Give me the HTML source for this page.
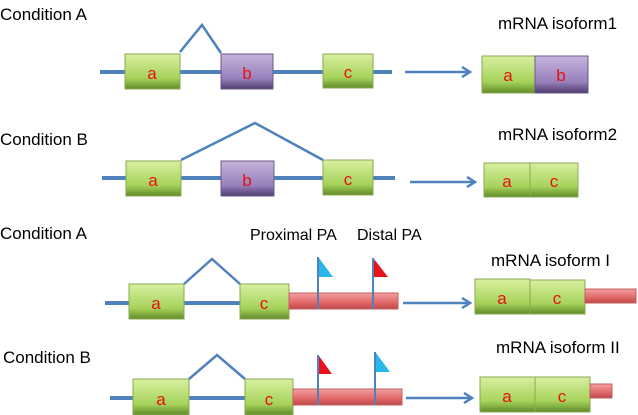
<!DOCTYPE html>
<html><head><style>
html,body{margin:0;padding:0;background:#fff;}
svg{display:block;font-family:"Liberation Sans",sans-serif;}
</style></head><body>
<svg width="638" height="415" viewBox="0 0 638 415" xmlns="http://www.w3.org/2000/svg">
<defs>
<linearGradient id="g" x1="0" y1="0" x2="0" y2="1"><stop offset="0" stop-color="#d8f0a0"/><stop offset="0.7" stop-color="#a6d25a"/><stop offset="1" stop-color="#5f8a2a"/></linearGradient>
<linearGradient id="p" x1="0" y1="0" x2="0" y2="1"><stop offset="0" stop-color="#c6b4dc"/><stop offset="0.7" stop-color="#9880bc"/><stop offset="1" stop-color="#4f3d6e"/></linearGradient>
<linearGradient id="r" x1="0" y1="0" x2="0" y2="1"><stop offset="0" stop-color="#f4a0a0"/><stop offset="0.6" stop-color="#e06868"/><stop offset="1" stop-color="#c04848"/></linearGradient>
<marker id="ah" markerWidth="12" markerHeight="12" refX="9" refY="6" orient="auto" markerUnits="userSpaceOnUse"><path d="M1,1 L9,6 L1,11" fill="none" stroke="#4f81bd" stroke-width="2.5"/></marker>
</defs>
<g font-size="17" fill="#000">
<text x="0" y="20">Condition A</text>
<text x="0" y="145">Condition B</text>
<text x="0" y="239">Condition A</text>
<text x="3" y="363">Condition B</text>
<text x="498" y="29">mRNA isoform1</text>
<text x="498" y="140">mRNA isoform2</text>
<text x="491" y="266">mRNA isoform I</text>
<text x="496" y="353">mRNA isoform II</text>
</g>
<g font-size="16" fill="#000">
<text x="250" y="240">Proximal PA</text>
<text x="357" y="240">Distal PA</text>
</g>
<g stroke="#4f81bd" stroke-width="4" fill="none">
<line x1="100" y1="72" x2="392" y2="72"/>
<line x1="102" y1="178" x2="395" y2="178"/>
<line x1="105" y1="303" x2="290" y2="303"/>
<line x1="110" y1="398" x2="295" y2="398"/>
</g>
<g stroke="#4f81bd" stroke-width="2.5" fill="none">
<polyline points="180,52 202,25 221,53"/>
<polyline points="181,160 255,123 323,160"/>
<polyline points="184,284 212,259 240,284"/>
<polyline points="189,379 217,355 245,379"/>
<line x1="405" y1="72" x2="470" y2="72" marker-end="url(#ah)"/>
<line x1="410" y1="182" x2="475" y2="182" marker-end="url(#ah)"/>
<line x1="403" y1="303" x2="470" y2="303" marker-end="url(#ah)"/>
<line x1="406" y1="398" x2="472" y2="398" marker-end="url(#ah)"/>
</g>
<g stroke="#8aaa50" stroke-width="1">
<rect x="125" y="54" width="55" height="35" fill="url(#g)"/>
<rect x="323" y="54" width="50" height="34" fill="url(#g)"/>
<rect x="126" y="161" width="55" height="35" fill="url(#g)"/>
<rect x="323" y="160" width="50" height="35" fill="url(#g)"/>
<rect x="129" y="284" width="55" height="35" fill="url(#g)"/>
<rect x="240" y="284" width="49" height="35" fill="url(#g)"/>
<rect x="133" y="379" width="56" height="36" fill="url(#g)"/>
<rect x="245" y="379" width="48" height="36" fill="url(#g)"/>
<rect x="482" y="56" width="53" height="37" fill="url(#g)"/>
<rect x="484" y="163" width="46" height="34" fill="url(#g)"/>
<rect x="530" y="163" width="48" height="34" fill="url(#g)"/>
<rect x="475" y="279" width="55" height="35" fill="url(#g)"/>
<rect x="530" y="280" width="55" height="34" fill="url(#g)"/>
<rect x="480" y="377" width="55" height="35" fill="url(#g)"/>
<rect x="535" y="377" width="55" height="35" fill="url(#g)"/>
</g>
<g stroke="#6a5a8a" stroke-width="1">
<rect x="221" y="54" width="52" height="35" fill="url(#p)"/>
<rect x="221" y="161" width="53" height="35" fill="url(#p)"/>
<rect x="535" y="56" width="53" height="37" fill="url(#p)"/>
</g>
<g stroke="#c06060" stroke-width="1" fill="url(#r)">
<rect x="289" y="293" width="109" height="16"/>
<rect x="293" y="389" width="109" height="16"/>
<rect x="585" y="289" width="51" height="14"/>
<rect x="590" y="384" width="22" height="14"/>
</g>
<g stroke="#4f81bd" stroke-width="2">
<line x1="318" y1="257" x2="318" y2="309"/>
<line x1="373" y1="258" x2="373" y2="309"/>
<line x1="318" y1="355" x2="318" y2="405"/>
<line x1="375" y1="352" x2="375" y2="405"/>
</g>
<polygon points="319,258 319,277 333,277" fill="#29b6e8"/>
<polygon points="374,259 374,277 388,277" fill="#e8141c"/>
<polygon points="319,356 319,374 332,374" fill="#e8141c"/>
<polygon points="376,353 376,372 390,372" fill="#29b6e8"/>
<g font-size="17" fill="#e81010" text-anchor="middle">
<text x="152" y="79">a</text><text x="247" y="79">b</text><text x="348" y="78">c</text>
<text x="153" y="186">a</text><text x="247" y="186">b</text><text x="348" y="185">c</text>
<text x="156" y="309">a</text><text x="264" y="309">c</text>
<text x="161" y="405">a</text><text x="269" y="405">c</text>
<text x="508" y="81">a</text><text x="561" y="81">b</text>
<text x="507" y="187">a</text><text x="554" y="187">c</text>
<text x="502" y="304">a</text><text x="557" y="304">c</text>
<text x="507" y="402">a</text><text x="562" y="402">c</text>
</g>
</svg>
</body></html>
